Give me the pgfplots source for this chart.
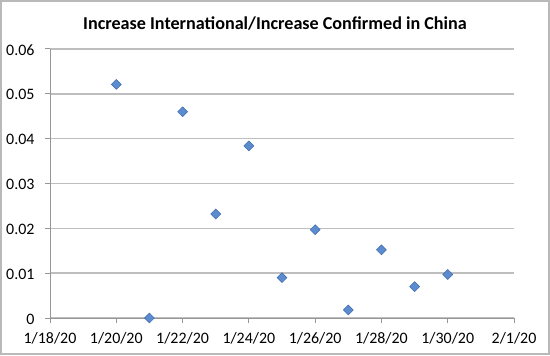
\documentclass[border=0pt]{standalone}
\usepackage{pgfplots}
\pgfplotsset{compat=1.18}
\usepackage{fontspec}
\setmainfont{Carlito}
\definecolor{gridc}{RGB}{190,190,190}
\definecolor{axisc}{RGB}{150,150,150}
\definecolor{borderc}{RGB}{185,185,185}
\definecolor{markfill}{RGB}{92,140,208}
\definecolor{markdraw}{RGB}{62,104,168}
\begin{document}
\begin{tikzpicture}[x=1bp,y=1bp]
\useasboundingbox (0,0) rectangle (550,355);
\draw[borderc, line width=2bp] (1,1) rectangle (549,354);
\node[font=\fontsize{18.2}{21}\selectfont\bfseries] at (275,331) {Increase International/Increase Confirmed in China};
\begin{axis}[
  at={(50bp,37bp)}, anchor=south west,
  scale only axis, width=464bp, height=269bp,
  xmin=0, xmax=14, ymin=0, ymax=0.06,
  scaled y ticks=false,
  axis lines=left,
  axis line style={-, draw=axisc, line width=1bp},
  xtick={0,2,4,6,8,10,12,14},
  xticklabels={1/18/20,1/20/20,1/22/20,1/24/20,1/26/20,1/28/20,1/30/20,2/1/20},
  ytick={0,0.01,0.02,0.03,0.04,0.05,0.06},
  yticklabels={0,0.01,0.02,0.03,0.04,0.05,0.06},
  ymajorgrids,
  major grid style={gridc, line width=1.4bp},
  tick align=outside,
  major tick length=5bp,
  tick style={axisc, line width=1bp},
  ticklabel style={font=\fontsize{16}{18}\selectfont, text=black},
  xticklabel style={yshift=-6bp},
  yticklabel style={xshift=-7bp, yshift=-1bp},
  clip=false,
]
\addplot[only marks, mark=square*, mark size=3.5bp,
  mark options={rotate=45, fill=markfill, draw=markdraw, line width=0.5bp}]
  coordinates {
  (2,0.0521) (3,0) (4,0.0460) (5,0.0232) (6,0.0384) (7,0.0090)
  (8,0.0197) (9,0.0018) (10,0.0152) (11,0.0070) (12,0.0097)
  };
\end{axis}
\end{tikzpicture}
\end{document}
